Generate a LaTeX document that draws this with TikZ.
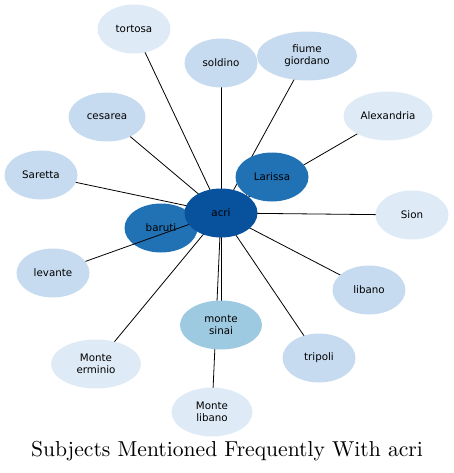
\documentclass[tikz,border=0pt]{standalone}
\usepackage{fontspec}
\newfontfamily\labelfont{DejaVu Sans}
\usepackage{xcolor}
\usepackage{tikz}
\usetikzlibrary{shapes.geometric}

\definecolor{blueA}{HTML}{08519C}
\definecolor{blueB}{HTML}{2171B5}
\definecolor{blueC}{HTML}{9ECAE1}
\definecolor{blueD}{HTML}{C6DBEF}
\definecolor{blueE}{HTML}{DEEBF7}

\pgfdeclarelayer{background}
\pgfdeclarelayer{foreground}
\pgfsetlayers{background,main,foreground}

\tikzset{
  topic/.style={ellipse, draw=none, inner sep=0pt, minimum width=73pt,
    minimum height=49pt, align=center,
    font=\labelfont\fontsize{10.3}{12.3}\selectfont},
  link/.style={draw=black, line width=0.8pt}
}

\begin{document}
\begin{tikzpicture}[x=1pt, y=-1pt]

% Marco de la imagen
\useasboundingbox (0,0) rectangle (454,473);

% Nodo central
\begin{pgfonlayer}{foreground}
\node[topic, fill=blueA] (acri) at (221,213) {acri};
\end{pgfonlayer}

% Nodos alrededor
\node[topic, fill=blueE] (tortosa) at (134,29) {tortosa};
\node[topic, fill=blueD] (soldino) at (221,63) {soldino};
\node[topic, fill=blueD, minimum width=100pt] (fiume) at (307,56) {fiume\\giordano};
\node[topic, fill=blueE, minimum width=89pt] (alexandria) at (388,116) {Alexandria};
\node[topic, fill=blueD, minimum width=77pt] (cesarea) at (107,117) {cesarea};
\node[topic, fill=blueD] (saretta) at (41,175) {Saretta};
\node[topic, fill=blueB] (larissa) at (272,177) {Larissa};
\node[topic, fill=blueB] (baruti) at (161,228) {baruti};
\node[topic, fill=blueE] (sion) at (412,215) {Sion};
\node[topic, fill=blueD] (levante) at (53,273) {levante};
\node[topic, fill=blueD] (libano) at (369,290) {libano};
\node[topic, fill=blueC, minimum width=82pt] (sinai) at (221,325) {monte\\sinai};
\node[topic, fill=blueD] (tripoli) at (319,358) {tripoli};
\node[topic, fill=blueE, minimum width=90pt] (erminio) at (96,364) {Monte\\erminio};
\node[topic, fill=blueE, minimum width=81pt] (mlibano) at (212,412) {Monte\\libano};

% Enlaces (debajo de los nodos)
\begin{pgfonlayer}{background}
\foreach \n in {tortosa,soldino,fiume,alexandria,cesarea,saretta,larissa,
  baruti,sion,libano,sinai,tripoli,erminio,mlibano}
  \draw[link] (acri.center) -- (\n.center);
\end{pgfonlayer}

% Enlace de levante (encima de baruti)
\draw[link] (acri.center) -- (levante);

% Titulo
\node[scale=2.16, transform shape] (title) at (227,451) {\fontsize{10}{12}\selectfont Subjects Mentioned Frequently With acri};

\end{tikzpicture}
\end{document}
